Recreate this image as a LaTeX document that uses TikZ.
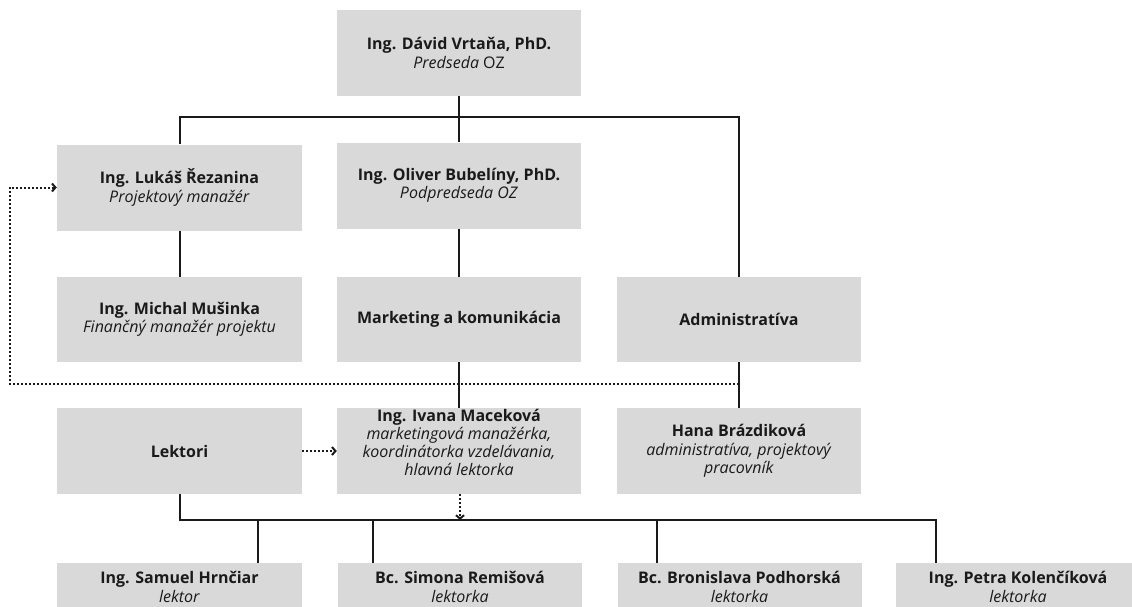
\documentclass[tikz,border=0pt]{standalone}
\usepackage{fontspec}
\setmainfont{Open Sans}
\usetikzlibrary{arrows.meta}
\definecolor{boxgray}{HTML}{D9D9D9}
\definecolor{ink}{HTML}{1A1A1A}
\newcommand{\raisedlines}[1]{\raisebox{1.8pt}[0pt][0pt]{\begin{tabular}{@{}c@{}}#1\end{tabular}}}
\begin{document}
\begin{tikzpicture}[x=1pt,y=-1pt]
\tikzset{
  box/.style={fill=boxgray, text=ink, align=center, minimum width=244pt,
    minimum height=86pt, inner sep=0pt, font=\fontsize{16}{18.5}\selectfont},
  lowbox/.style={box, minimum height=48pt},
  conn/.style={line width=2pt, draw=ink},
  dotconn/.style={line width=2pt, draw=ink, dash pattern=on 2pt off 2pt},
  tipped/.style={-{Straight Barb[length=3.5pt,width=8pt]}}
}
\useasboundingbox (0,0) rectangle (1132,606);
\clip (0,0) rectangle (1132,606);

% nodes
\node[box] (top) at (459,53) {\textbf{Ing. Dávid Vrtaňa, PhD.}\\\textit{Predseda} OZ};
\node[box, minimum width=245pt] (lukas) at (179.5,187.5) {\textbf{Ing. Lukáš Řezanina}\\\textit{Projektový manažér}};
\node[box] (oliver) at (459,185.5) {\textbf{Ing. Oliver Bubelíny, PhD.}\\\textit{Podpredseda OZ}};
\node[box, minimum width=245pt, minimum height=85pt] (michal) at (179.5,319.5) {\textbf{Ing. Michal Mušinka}\\\textit{Finančný manažér projektu}};
\node[box, minimum height=85pt] (marketing) at (459,319.5) {\textbf{Marketing a komunikácia}};
\node[box, minimum height=85pt] (admin) at (739,319.5) {\textbf{Administratíva}};
\node[box, minimum width=245pt] (lektori) at (179.5,451) {\textbf{Lektori}};
\node[box, font=\fontsize{16}{18}\selectfont] (ivana) at (459,451) {\raisedlines{\textbf{Ing. Ivana Maceková}\\\textit{marketingová manažérka,}\\\textit{koordinátorka vzdelávania,}\\\textit{hlavná lektorka}}};
\node[box] (hana) at (739,451) {\textbf{Hana Brázdiková}\\\textit{administratíva, projektový}\\\textit{pracovník}};

\node[lowbox, minimum width=245pt] (samuel) at (179.5,587) {\textbf{Ing. Samuel Hrnčiar}\\\textit{lektor}};
\node[lowbox] (simona) at (460,587) {\textbf{Bc. Simona Remišová}\\\textit{lektorka}};
\node[lowbox] (bronislava) at (739.5,587) {\textbf{Bc. Bronislava Podhorská}\\\textit{lektorka}};
\node[lowbox] (petra) at (1018,587) {\textbf{Ing. Petra Kolenčíková}\\\textit{lektorka}};

% helper coordinates
\coordinate (bar) at (459,117);
\coordinate (dstart) at (739,384);
\coordinate (dleft) at (10,384);
\coordinate (lowbar) at (459,520);
\coordinate (ds) at (258,520);
\coordinate (dsi) at (373,520);
\coordinate (dbr) at (657,520);
\coordinate (dpe) at (936,520);

% solid connectors
\draw[conn] (top.south) -- (oliver.north);
\draw[conn] (lukas.north) |- (bar) -| (admin.north);
\draw[conn] (lukas.south) -- (michal.north);
\draw[conn] (oliver.south) -- (marketing.north);
\draw[conn] (marketing.south) -- (ivana.north);
\draw[conn] (admin.south) -- (hana.north);
\draw[conn] (lektori.south) |- (dpe) -- (dpe |- petra.north);
\draw[conn] (ds) -- (ds |- samuel.north);
\draw[conn] (dsi) -- (dsi |- simona.north);
\draw[conn] (dbr) -- (dbr |- bronislava.north);

% dotted connectors
\draw[dotconn, tipped] (dstart) -- (dleft) |- (lukas.west);
\draw[dotconn, tipped] (lektori.east) -- (ivana.west);
\draw[dotconn, tipped] ([xshift=1pt]ivana.south) -- ([xshift=1pt]lowbar);
\end{tikzpicture}
\end{document}
